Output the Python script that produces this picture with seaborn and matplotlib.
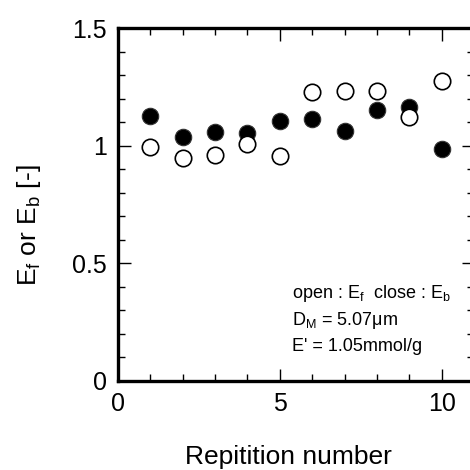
"""Ef / Eb vs repetition number"""
import matplotlib
matplotlib.use("Agg")
import matplotlib.pyplot as plt
import numpy as np
import pandas as pd
import seaborn as sns
from matplotlib.ticker import MultipleLocator

# data
repetition = [1, 2, 3, 4, 5, 6, 7, 8, 9, 10]
e_b_close = [1.128, 1.037, 1.057, 1.055, 1.103, 1.113, 1.064, 1.150, 1.163, 0.986]
e_f_open = [0.994, 0.948, 0.962, 1.007, 0.955, 1.227, 1.234, 1.234, 1.121, 1.274]

annot_lines = [
    "open : E$_f$  close : E$_b$",
    "D$_M$ = 5.07\u03bcm",
    "E' = 1.05mmol/g",
]

sns.set_style("ticks")
plt.rcParams["font.family"] = ["Liberation Sans", "DejaVu Sans"]
plt.rcParams["mathtext.fontset"] = "custom"
plt.rcParams["mathtext.rm"] = "Liberation Sans"
plt.rcParams["mathtext.it"] = "Liberation Sans"
plt.rcParams["mathtext.default"] = "regular"
for key in ["text.color", "axes.labelcolor", "xtick.color", "ytick.color", "axes.edgecolor"]:
    plt.rcParams[key] = "black"

df = pd.DataFrame({"n": repetition, "Eb": e_b_close, "Ef": e_f_open})

fig = plt.figure(figsize=(4.7, 4.7), dpi=100)
ax = fig.add_axes([118 / 470, 89 / 470, 356 / 470, 353 / 470])

# filled = Eb (close), open = Ef
sns.scatterplot(data=df, x="n", y="Eb", ax=ax, s=140, color="black",
                edgecolor="#333333", linewidth=0.8, zorder=3)
sns.scatterplot(data=df, x="n", y="Ef", ax=ax, s=140, color="white",
                edgecolor="black", linewidth=1.2, zorder=4)

ax.set_xlim(0, 11)
ax.set_ylim(0, 1.5)
ax.xaxis.set_major_locator(MultipleLocator(5))
ax.xaxis.set_minor_locator(MultipleLocator(1))
ax.yaxis.set_major_locator(MultipleLocator(0.5))
ax.yaxis.set_minor_locator(MultipleLocator(0.1))
ax.set_yticks([0, 0.5, 1, 1.5])
ax.set_yticklabels(["0", "0.5", "1", "1.5"])

ax.tick_params(which="both", direction="in", top=True, right=True, width=1, color="black")
ax.tick_params(which="major", length=9, labelsize=18, pad=8)
ax.tick_params(which="minor", length=5)
for side in ["left", "bottom", "top", "right"]:
    ax.spines[side].set_linewidth(2.4)

ax.set_xlabel("Repitition number", fontsize=19)
ax.set_ylabel("E$_f$ or E$_b$ [-]", fontsize=19)
ax.xaxis.set_label_coords(0.48, -0.18)
ax.yaxis.set_label_coords(-0.21, 0.44)

for txt, yy in zip(annot_lines, [0.353, 0.238, 0.128]):
    ax.text(5.37, yy, txt, fontsize=13, va="baseline", ha="left")

fig.savefig("out.png", dpi=100)
plt.close(fig)
